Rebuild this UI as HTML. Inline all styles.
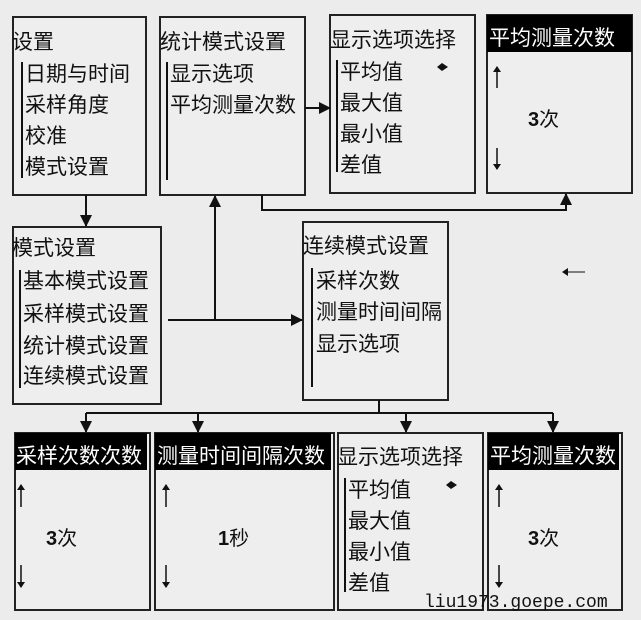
<!DOCTYPE html>
<html><head><meta charset="utf-8"><style>
html,body{margin:0;padding:0;background:#ececec;}
svg{display:block}
text{font-family:"Liberation Sans","WenQuanYi Zen Hei","Noto Sans CJK SC",sans-serif;fill:#111;}
.t{font-size:21px}
.w{fill:#fff}
.m{font-family:"Liberation Mono",monospace;font-size:18px}
</style></head><body>
<svg width="641" height="620" viewBox="0 0 641 620" xmlns="http://www.w3.org/2000/svg">
<defs>
<marker id="b" markerWidth="12" markerHeight="12" refX="11" refY="6" orient="auto" markerUnits="userSpaceOnUse"><path d="M0,0 L12,6 L0,12 z" fill="#111"/></marker>
<marker id="s" markerWidth="6" markerHeight="8" refX="5" refY="4" orient="auto" markerUnits="userSpaceOnUse"><path d="M0,0 L6,4 L0,8 z" fill="#111"/></marker>
</defs>
<rect width="641" height="620" fill="#ececec"/>
<g fill="#eeeeee" stroke="#222" stroke-width="2">
<rect x="13" y="17" width="133" height="178"/>
<rect x="160" y="17" width="145" height="178"/>
<rect x="330" y="15" width="145" height="178"/>
<rect x="487" y="15" width="145" height="178"/>
<rect x="13" y="227" width="148" height="177"/>
<rect x="303" y="222" width="145" height="178"/>
<rect x="15" y="433" width="135" height="177"/>
<rect x="155" y="433" width="179" height="177"/>
<rect x="338" y="433" width="145" height="177"/>
<rect x="488" y="433" width="134" height="177"/>
</g>
<g fill="#000">
<rect x="487" y="15" width="145" height="37"/>
<rect x="15" y="433" width="132" height="37"/>
<rect x="155" y="433" width="176" height="37"/>
<rect x="488" y="433" width="131" height="37"/>
</g>
<g stroke="#111" stroke-width="2">
<line x1="22" y1="62" x2="22" y2="178"/>
<line x1="167" y1="62" x2="167" y2="180"/>
<line x1="337" y1="60" x2="337" y2="172"/>
<line x1="20" y1="270" x2="20" y2="388"/>
<line x1="312" y1="268" x2="312" y2="387"/>
<line x1="345" y1="478" x2="345" y2="592"/>
</g>
<g stroke="#111" stroke-width="2" fill="none">
<line x1="305" y1="108" x2="330" y2="108" marker-end="url(#b)"/>
<polyline points="262,195 262,210 566,210 566,194" marker-end="url(#b)"/>
<line x1="86" y1="195" x2="86" y2="226" marker-end="url(#b)"/>
<line x1="168" y1="320" x2="302" y2="320" marker-end="url(#b)"/>
<line x1="215" y1="320" x2="215" y2="196" marker-end="url(#b)"/>
<line x1="379" y1="400" x2="379" y2="413"/>
<line x1="86" y1="413" x2="553" y2="413"/>
<line x1="86" y1="413" x2="86" y2="432" marker-end="url(#b)"/>
<line x1="198" y1="413" x2="198" y2="432" marker-end="url(#b)"/>
<line x1="406" y1="413" x2="406" y2="432" marker-end="url(#b)"/>
<line x1="553" y1="413" x2="553" y2="432" marker-end="url(#b)"/>
</g>
<g stroke="#111" stroke-width="1.5" fill="none">
<line x1="497" y1="88" x2="497" y2="67" marker-end="url(#s)"/>
<line x1="497" y1="148" x2="497" y2="169" marker-end="url(#s)"/>
<line x1="21" y1="507" x2="21" y2="485" marker-end="url(#s)"/>
<line x1="21" y1="565" x2="21" y2="587" marker-end="url(#s)"/>
<line x1="166" y1="507" x2="166" y2="485" marker-end="url(#s)"/>
<line x1="166" y1="565" x2="166" y2="587" marker-end="url(#s)"/>
<line x1="499" y1="507" x2="499" y2="485" marker-end="url(#s)"/>
<line x1="499" y1="565" x2="499" y2="587" marker-end="url(#s)"/>
<line x1="585" y1="272" x2="563" y2="272" stroke-width="1" marker-end="url(#s)"/>
</g>
<g class="t">
<text x="12" y="49">设置</text>
<text x="25" y="81">日期与时间</text>
<text x="25" y="112">采样角度</text>
<text x="25" y="143">校准</text>
<text x="25" y="174">模式设置</text>
<text x="160" y="49">统计模式设置</text>
<text x="170" y="81">显示选项</text>
<text x="170" y="112">平均测量次数</text>
<text x="330" y="47">显示选项选择</text>
<text x="340" y="79">平均值</text>
<text x="340" y="110">最大值</text>
<text x="340" y="141">最小值</text>
<text x="340" y="172">差值</text>
<text class="t w" x="489" y="45">平均测量次数</text>
<text x="12" y="255">模式设置</text>
<text x="23" y="288">基本模式设置</text>
<text x="23" y="321">采样模式设置</text>
<text x="23" y="353">统计模式设置</text>
<text x="23" y="383">连续模式设置</text>
<text x="303" y="253">连续模式设置</text>
<text x="316" y="288">采样次数</text>
<text x="316" y="319">测量时间间隔</text>
<text x="316" y="351">显示选项</text>
<text class="t w" x="16" y="463">采样次数次数</text>
<text class="t w" x="157" y="463">测量时间间隔次数</text>
<text x="337" y="464">显示选项选择</text>
<text x="348" y="497">平均值</text>
<text x="348" y="528">最大值</text>
<text x="348" y="559">最小值</text>
<text x="348" y="590">差值</text>
<text class="t w" x="490" y="463">平均测量次数</text>
<text x="528" y="126" font-weight="bold" font-size="20">3<tspan font-weight="normal">次</tspan></text>
<text x="46" y="545" font-weight="bold" font-size="20">3<tspan font-weight="normal">次</tspan></text>
<text x="218" y="545" font-weight="bold" font-size="20">1<tspan font-weight="normal">秒</tspan></text>
<text x="528" y="545" font-weight="bold" font-size="20">3<tspan font-weight="normal">次</tspan></text>
</g>
<g fill="#111">
<path d="M437,67 L442,63 L448,67 L442,71 z"/>
<path d="M446,485 L451,481 L457,485 L451,489 z"/>
</g>
<text class="m" x="424" y="607">liu1973.goepe.com</text>
</svg>
</body></html>
